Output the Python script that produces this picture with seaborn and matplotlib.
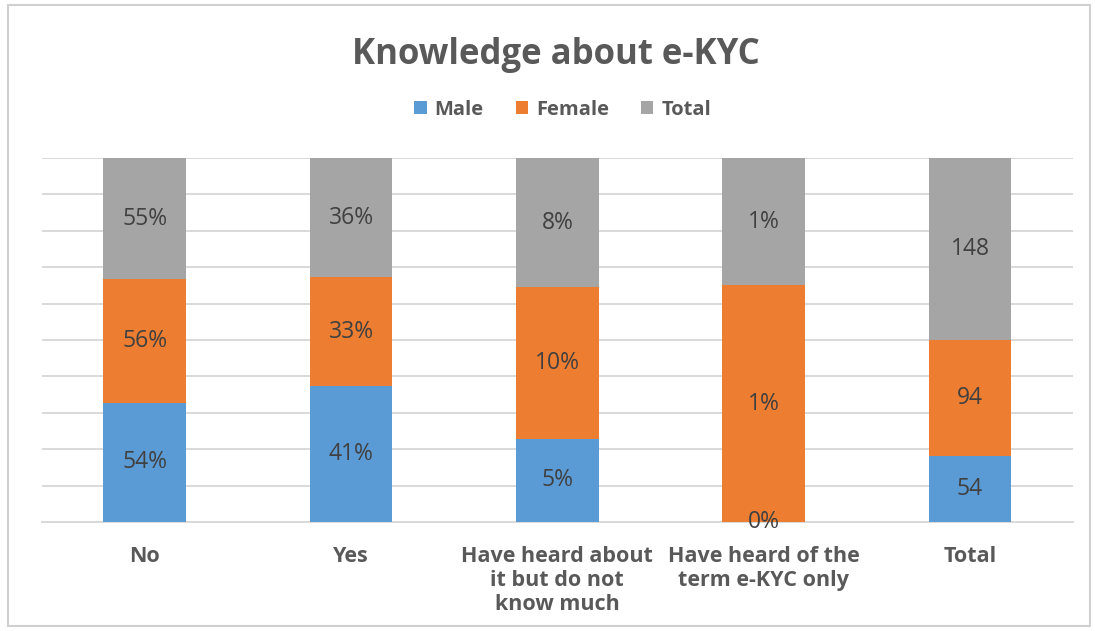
import matplotlib
matplotlib.use("Agg")
import matplotlib.pyplot as plt
from matplotlib.patches import Rectangle, Patch
import numpy as np
import pandas as pd
import seaborn as sns

categories = ["No", "Yes", "Have heard about\nit but do not\nknow much",
              "Have heard of the\nterm e-KYC only", "Total"]
male = [54, 41, 5.3, 0.0, 54]
female = [56, 33, 9.6, 1.3, 94]
total = [55, 36, 8.2, 0.7, 148]
is_percent = [True, True, True, True, False]

series_names = ["Male", "Female", "Total"]
colors = {"Male": "#5B9BD5", "Female": "#ED7D31", "Total": "#A5A5A5"}

sns.set_theme(style="white")
plt.rcParams["font.family"] = ["Open Sans", "DejaVu Sans"]

vals = np.array([male, female, total], dtype=float)
shares = vals / vals.sum(axis=0)
cum = np.cumsum(shares, axis=0)

fig = plt.figure(figsize=(10.95, 6.31), dpi=100)
ax = fig.add_axes([0.038, 0.1727, 0.942, 0.5769])

# Stacked 100% columns: draw cumulative tops from the highest layer down
for i in reversed(range(3)):
    df = pd.DataFrame({"cat": categories, "h": cum[i]})
    sns.barplot(data=df, x="cat", y="h", color=colors[series_names[i]],
                width=0.4, saturation=1, ax=ax, zorder=3, linewidth=0)

ax.set_ylim(0, 1)
ax.set_xlim(-0.5, len(categories) - 0.5)
ax.set_yticks(np.linspace(0, 1, 11))
ax.yaxis.grid(True, color="#D9D9D9", linewidth=1.4, zorder=0)
ax.set_axisbelow(True)
ax.tick_params(axis="y", left=False, labelleft=False)
ax.tick_params(axis="x", bottom=False, pad=11)
ax.set_xlabel("")
ax.set_ylabel("")
for s in ["left", "right", "top"]:
    ax.spines[s].set_visible(False)
ax.spines["bottom"].set_color("#D9D9D9")
ax.spines["bottom"].set_linewidth(1.4)
ax.set_xticks(range(len(categories)))
ax.set_xticklabels(categories, fontsize=15.5, fontweight="bold", color="#595959",
                   linespacing=1.2, va="top")

# Data labels centred in each segment
for j in range(len(categories)):
    lower = 0.0
    for i in range(3):
        upper = cum[i, j]
        v = vals[i, j]
        txt = f"{v:.0f}%" if is_percent[j] else f"{v:.0f}"
        y = (lower + upper) / 2
        ax.text(j, y, txt, ha="center", va="center", fontsize=16.5,
                color="#404040", zorder=5, clip_on=False)
        lower = upper

fig.suptitle("Knowledge about e-KYC", x=0.508, y=0.942, fontsize=25,
             fontweight="bold", color="#595959")

handles = [Patch(facecolor=colors[n], edgecolor="none") for n in series_names]
leg = fig.legend(handles, series_names, loc="center", bbox_to_anchor=(0.514, 0.826),
                 ncol=3, frameon=False, fontsize=14.5, handlelength=0.6,
                 handleheight=0.6, handletextpad=0.4, columnspacing=1.6)
for t in leg.get_texts():
    t.set_color("#595959")
    t.set_fontweight("bold")

fig.patches.append(Rectangle((0.007, 0.008), 0.988, 0.984, transform=fig.transFigure,
                             fill=False, edgecolor="#D0D0D0", linewidth=1.5))

fig.savefig("out.png", dpi=100)
